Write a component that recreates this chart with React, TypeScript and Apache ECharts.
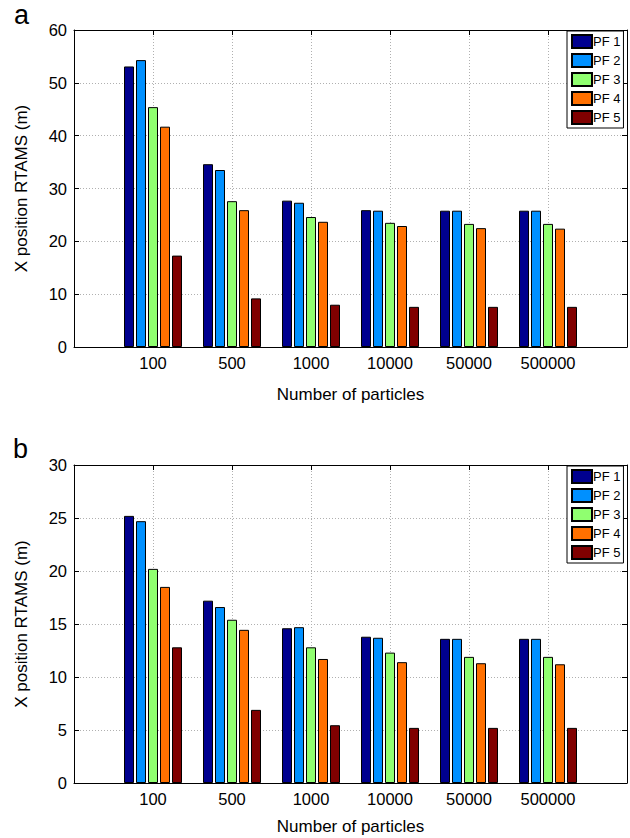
import React, { useEffect, useRef } from "react";
import * as echarts from "echarts";

const categories = ["100", "500", "1000", "10000", "50000", "500000"];
const seriesNames = ["PF 1", "PF 2", "PF 3", "PF 4", "PF 5"];
const colors = ["#00008F", "#0090FF", "#90FF70", "#FF7000", "#800000"];

// Panel a (values per PF, per category)
const a_pf1 = [53.1, 34.6, 27.7, 25.9, 25.8, 25.8];
const a_pf2 = [54.3, 33.5, 27.3, 25.8, 25.8, 25.8];
const a_pf3 = [45.4, 27.6, 24.6, 23.5, 23.3, 23.3];
const a_pf4 = [41.7, 25.9, 23.7, 22.9, 22.5, 22.4];
const a_pf5 = [17.3, 9.2, 8.0, 7.6, 7.6, 7.6];

// Panel b
const b_pf1 = [25.2, 17.2, 14.6, 13.8, 13.6, 13.6];
const b_pf2 = [24.7, 16.6, 14.7, 13.7, 13.6, 13.6];
const b_pf3 = [20.2, 15.4, 12.8, 12.3, 11.9, 11.9];
const b_pf4 = [18.5, 14.45, 11.7, 11.4, 11.3, 11.2];
const b_pf5 = [12.8, 6.9, 5.45, 5.2, 5.2, 5.2];

const panelA = [a_pf1, a_pf2, a_pf3, a_pf4, a_pf5];
const panelB = [b_pf1, b_pf2, b_pf3, b_pf4, b_pf5];

const yMaxA = 60;
const yIntA = 10;
const yMaxB = 30;
const yIntB = 5;

const FONT = "Liberation Sans, Arial, Helvetica, sans-serif";

export default function App() {
  const ref = useRef<HTMLDivElement>(null);

  useEffect(() => {
    if (!ref.current) return;
    const chart = echarts.init(ref.current, undefined, { renderer: "svg" });

    const grids = [
      { left: 74, top: 30, width: 553, height: 317 },
      { left: 74, top: 465, width: 553, height: 318 },
    ];

    const dotted = { show: true, lineStyle: { color: "#b0b0b0", type: [1, 2] as any, width: 1 } };
    const axisLine = { show: true, onZero: false, lineStyle: { color: "#000", width: 1 } };
    const tick = { show: true, inside: true, length: 5, lineStyle: { color: "#000" } };

    const xAxes: any[] = [];
    const yAxes: any[] = [];
    const nameGapsX = [39, 35];
    [0, 1].forEach((g) => {
      xAxes.push({
        type: "value",
        gridIndex: g,
        position: "bottom",
        min: 0,
        max: 7,
        interval: 1,
        axisLine,
        axisTick: tick,
        splitLine: dotted,
        axisLabel: {
          margin: 7,
          fontSize: 16.5,
          color: "#000",
          fontFamily: FONT,
          formatter: (v: number) => categories[v - 1] ?? "",
        },
        name: "Number of particles",
        nameLocation: "middle",
        nameGap: nameGapsX[g],
        nameTextStyle: { fontSize: 17, color: "#000", fontFamily: FONT },
      });
      xAxes.push({
        type: "value",
        gridIndex: g,
        position: "top",
        min: 0,
        max: 7,
        interval: 1,
        axisLine,
        axisTick: tick,
        splitLine: { show: false },
        axisLabel: { show: false },
      });
      const ymax = g === 0 ? yMaxA : yMaxB;
      const yint = g === 0 ? yIntA : yIntB;
      yAxes.push({
        type: "value",
        gridIndex: g,
        position: "left",
        min: 0,
        max: ymax,
        interval: yint,
        axisLine,
        axisTick: tick,
        splitLine: dotted,
        axisLabel: { margin: 7, fontSize: 16.5, color: "#000", fontFamily: FONT },
        name: "X position RTAMS (m)",
        nameLocation: "middle",
        nameGap: 44,
        nameTextStyle: { fontSize: 17, color: "#000", fontFamily: FONT },
      });
      yAxes.push({
        type: "value",
        gridIndex: g,
        position: "right",
        min: 0,
        max: ymax,
        interval: yint,
        axisLine,
        axisTick: tick,
        splitLine: { show: false },
        axisLabel: { show: false },
      });
    });

    const series: any[] = [];
    [panelA, panelB].forEach((panel, p) => {
      panel.forEach((vals, i) => {
        series.push({
          type: "bar",
          name: seriesNames[i],
          xAxisIndex: 2 * p,
          yAxisIndex: 2 * p,
          barWidth: 10,
          barGap: "20%",
          itemStyle: {
            color: colors[i],
            borderColor: "#000",
            borderWidth: 1,
          },
          data: vals.map((v, j) => [j + 1, v]),
        });
      });
    });

    const legendBase = {
      orient: "vertical",
      left: 567,
      padding: [3, 3, 3, 4],
      itemGap: 4,
      itemWidth: 20,
      itemHeight: 13,
      icon: "rect",
      borderColor: "#000",
      borderWidth: 1,
      backgroundColor: "#fff",
      borderRadius: 0,
      selectedMode: false,
      textStyle: { fontSize: 13, color: "#000", fontFamily: FONT, padding: [0, 0, 0, -4] },
      data: seriesNames,
    };

    chart.setOption({
      animation: false,
      backgroundColor: "#fff",
      grid: grids,
      xAxis: xAxes,
      yAxis: yAxes,
      series,
      legend: [
        { ...legendBase, top: 31 },
        { ...legendBase, top: 466 },
      ],
      graphic: [
        {
          type: "text",
          x: 14,
          y: 15,
          style: { text: "a", fontSize: 27, fontFamily: FONT, fill: "#000", verticalAlign: "middle" },
        },
        {
          type: "text",
          x: 13,
          y: 449,
          style: { text: "b", fontSize: 27, fontFamily: FONT, fill: "#000", verticalAlign: "middle" },
        },
      ],
    });

    return () => chart.dispose();
  }, []);

  return (
    <div
      ref={ref}
      style={{ position: "fixed", left: 0, top: 0, width: 630, height: 838, background: "#fff" }}
    />
  );
}
